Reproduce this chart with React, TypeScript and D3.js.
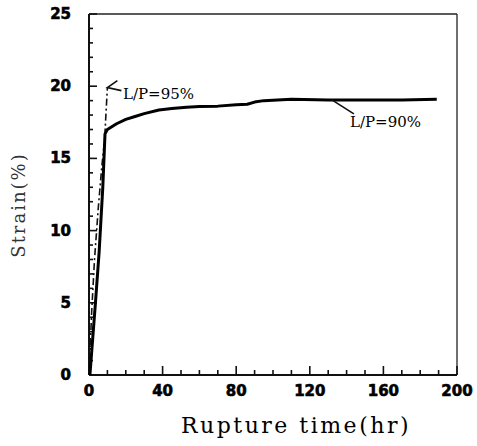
import React, { useEffect, useRef } from 'react';
import * as d3 from 'd3';

// L/P = 90% (solid)
const time90 = [0.5, 2, 3.5, 5.5, 7.5, 8.7, 10, 15, 20, 25, 30, 38, 45, 53, 60, 70, 80, 86, 90, 95, 110, 130, 150, 170, 189];
const strain90 = [0, 2.5, 5, 8.5, 13, 16.7, 17.0, 17.4, 17.7, 17.9, 18.1, 18.35, 18.45, 18.55, 18.6, 18.62, 18.72, 18.75, 18.9, 19.0, 19.1, 19.05, 19.05, 19.05, 19.1];

// L/P = 95% (dash-dot)
const time95 = [0, 1.5, 3, 5, 7, 8.5, 9.3, 10];
const strain95 = [0, 4.5, 8, 11.5, 14.5, 16.3, 18.3, 19.9];

const xTicks = [0, 40, 80, 120, 160, 200];
const yTicks = [0, 5, 10, 15, 20, 25];

const W = 477;
const H = 446;

const App: React.FC = () => {
  const svgRef = useRef<SVGSVGElement>(null);

  useEffect(() => {
    if (!svgRef.current) return;
    const svg = d3.select(svgRef.current);
    svg.selectAll('*').remove();

    const left = 89, right = 457, top = 14, bottom = 375;

    const x = d3.scaleLinear().domain([0, 200]).range([left, right]);
    const y = d3.scaleLinear().domain([0, 25]).range([bottom, top]);

    const g = svg.append('g');

    // frame
    g.append('line').attr('x1', left).attr('x2', right).attr('y1', top).attr('y2', top)
      .attr('stroke', '#222').attr('stroke-width', 1.3);
    g.append('line').attr('x1', right).attr('x2', right).attr('y1', top).attr('y2', bottom)
      .attr('stroke', '#222').attr('stroke-width', 1.3);
    g.append('line').attr('x1', left).attr('x2', right).attr('y1', bottom).attr('y2', bottom)
      .attr('stroke', '#111').attr('stroke-width', 2);
    g.append('line').attr('x1', left).attr('x2', left).attr('y1', top).attr('y2', bottom)
      .attr('stroke', '#111').attr('stroke-width', 2);

    // minor + major ticks (inward)
    d3.range(0, 201, 10).forEach(v => {
      const major = v % 40 === 0;
      g.append('line')
        .attr('x1', x(v)).attr('x2', x(v))
        .attr('y1', bottom).attr('y2', bottom - (major ? 9 : 5))
        .attr('stroke', '#111').attr('stroke-width', 1.6);
    });
    d3.range(0, 26, 1).forEach(v => {
      const major = v % 5 === 0;
      g.append('line')
        .attr('x1', left).attr('x2', left + (major ? 8 : 4))
        .attr('y1', y(v)).attr('y2', y(v))
        .attr('stroke', '#111').attr('stroke-width', 1.6);
    });

    // tick labels
    g.selectAll('text.xt').data(xTicks).enter().append('text')
      .attr('class', 'xt')
      .attr('x', d => x(d)).attr('y', bottom + 21)
      .attr('text-anchor', 'middle')
      .style('font-family', 'DejaVu Sans, sans-serif')
      .style('font-weight', '900').style('font-size', '15px')
      .style('stroke', '#000').style('stroke-width', '0.6px')
      .text(d => String(d));
    g.selectAll('text.yt').data(yTicks).enter().append('text')
      .attr('class', 'yt')
      .attr('x', 71).attr('y', d => y(d) + 5)
      .attr('text-anchor', 'end')
      .style('font-family', 'DejaVu Sans, sans-serif')
      .style('font-weight', '900').style('font-size', '15px')
      .style('stroke', '#000').style('stroke-width', '0.6px')
      .text(d => String(d));

    // axis titles
    g.append('text')
      .attr('x', 296).attr('y', 433)
      .attr('text-anchor', 'middle')
      .style('font-family', 'DejaVu Serif, serif')
      .style('font-size', '22px').style('letter-spacing', '2.5px')
      .text('Rupture time(hr)');
    g.append('text')
      .attr('transform', 'translate(25,205) rotate(-90)')
      .attr('text-anchor', 'middle')
      .style('font-family', 'DejaVu Serif, serif')
      .style('font-size', '18px').style('letter-spacing', '2px')
      .attr('fill', '#333')
      .text('Strain(%)');

    const line = d3.line<[number, number]>()
      .x(d => x(d[0]))
      .y(d => y(d[1]))
      .curve(d3.curveMonotoneX);

    const d95 = time95.map((t, i) => [t, strain95[i]] as [number, number]);
    const d90 = time90.map((t, i) => [t, strain90[i]] as [number, number]);

    g.append('path')
      .datum(d95)
      .attr('fill', 'none')
      .attr('stroke', '#111')
      .attr('stroke-width', 1.6)
      .attr('stroke-dasharray', '7,3,2,3')
      .attr('d', d3.line<[number, number]>().x(d => x(d[0])).y(d => y(d[1])));

    g.append('path')
      .datum(d90)
      .attr('fill', 'none')
      .attr('stroke', '#000')
      .attr('stroke-width', 3)
      .attr('stroke-linejoin', 'round')
      .attr('d', d3.line<[number, number]>().x(d => x(d[0])).y(d => y(d[1])));

    // labels with leaders
    const p95 = d95[d95.length - 1];
    g.append('path')
      .attr('d', `M${x(p95[0]) + 10},${y(p95[1]) - 7} L${x(p95[0])},${y(p95[1])} L${x(p95[0]) + 14},${y(p95[1]) + 3}`)
      .attr('fill', 'none').attr('stroke', '#111').attr('stroke-width', 1.6);
    g.append('text')
      .attr('x', 123).attr('y', 99)
      .style('font-family', 'DejaVu Serif, serif')
      .style('font-size', '15px')
      .text('L/P=95%');

    g.append('line')
      .attr('x1', x(132)).attr('y1', y(19.05))
      .attr('x2', x(132) + 22).attr('y2', y(19.05) + 14)
      .attr('stroke', '#111').attr('stroke-width', 1.6);
    g.append('text')
      .attr('x', 350).attr('y', 127)
      .style('font-family', 'DejaVu Serif, serif')
      .style('font-size', '15px')
      .text('L/P=90%');
  }, []);

  return (
    <svg
      ref={svgRef}
      width={W}
      height={H}
      style={{ position: 'absolute', left: 0, top: 0, background: '#fff' }}
    />
  );
};

export default App;
